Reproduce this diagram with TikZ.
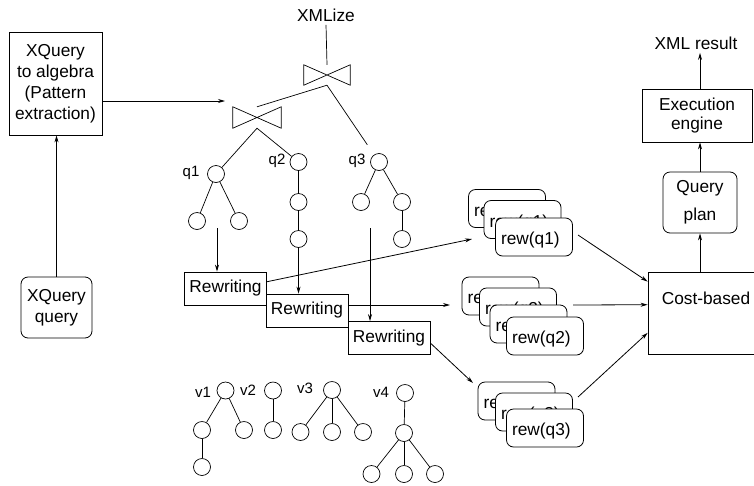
\documentclass[tikz,border=0pt]{standalone}
\usepackage{fontspec}
\setmainfont{Liberation Sans}
\usetikzlibrary{arrows.meta,calc}
\begin{document}
\begin{tikzpicture}[x=1pt,y=-1pt,
  every node/.style={font=\fontsize{17.3}{21}\selectfont},
  box/.style={draw, line width=0.8pt, inner sep=0pt, align=center},
  rbox/.style={box, rounded corners=7pt},
  rew/.style={draw, line width=0.8pt, rounded corners=7pt, fill=white, minimum height=38pt, text width=66pt, text height=15pt, text depth=0pt, inner xsep=5.5pt, inner ysep=0pt, align=left},
  tn/.style={draw, circle, line width=0.7pt, minimum size=17pt, inner sep=0pt},
  lbl/.style={font=\fontsize{15}{18}\selectfont, inner sep=0pt},
  ln/.style={line width=0.7pt},
  arr/.style={line width=0.8pt, -{Stealth[length=7pt,width=4pt]}},
  bowtie/.style={inner sep=0pt},
]
\useasboundingbox (0,0) rectangle (754,485);
\fill[white] (0,0) rectangle (754,485);

% left boxes
\node[box, minimum width=93pt, minimum height=103pt] (alg) at (55.5,83.5) {XQuery\\to algebra\\(Pattern\\extraction)};
\node[rbox, minimum width=71pt, minimum height=61pt] (xq) at (56.5,307.5) {XQuery\\query};
\draw[arr] (xq.north) -- (xq.north |- alg.south);

% joins
\node (xmlize) at (326,15) {XMLize};
\node[bowtie, minimum width=46pt, minimum height=20pt] (j1) at (327,75) {};
\draw[ln] (j1.north west) -- (j1.south east) -- (j1.north east) -- (j1.south west) -- cycle;
\node[bowtie, minimum width=48pt, minimum height=21pt] (j2) at (257,117.5) {};
\draw[ln] (j2.north west) -- (j2.south east) -- (j2.north east) -- (j2.south west) -- cycle;
\draw[ln] (xmlize.south) -- (j1.north);
\coordinate (jin) at (225,101);
\draw[arr] (alg.east |- jin) -- (jin);

% query trees
\node[tn] (q1r) at (216,174) {};
\node[tn] (q1a) at (197,221) {};
\node[tn] (q1b) at (239,221) {};
\node[lbl] (lq1) at (191,173) {q1};
\node[tn] (q2r) at (298.5,162) {};
\node[tn] (q2a) at (298.5,202) {};
\node[tn] (q2b) at (298.5,239) {};
\node[lbl] (lq2) at (277,161) {q2};
\node[tn] (q3r) at (379,162) {};
\node[tn] (q3a) at (361,202) {};
\node[tn] (q3b) at (402,202) {};
\node[tn] (q3c) at (402,239) {};
\node[lbl] (lq3) at (357,161) {q3};
\draw[ln] (q1r) -- (q1a);
\draw[ln] (q1r) -- (q1b);
\draw[ln] (q2r) -- (q2a);
\draw[ln] (q2a) -- (q2b);
\draw[ln] (q3r) -- (q3a);
\draw[ln] (q3r) -- (q3b);
\draw[ln] (q3b) -- (q3c);
\draw[ln] (j1.south) -- (j2.north);
\draw[ln, shorten >=12pt] (j1.south) -- (q3r);
\draw[ln] (j2.south) -- (q1r);
\draw[ln] (j2.south) -- (q2r);

% rewriting boxes
\node[box, minimum width=82pt, minimum height=33pt] (b1) at (225.5,288.5) {Rewriting};
\node[box, minimum width=82pt, minimum height=33pt] (b2) at (307,310.5) {Rewriting};
\node[box, minimum width=82pt, minimum height=33pt] (b3) at (389,338) {Rewriting};
\coordinate (q1o) at (217,228);
\draw[arr] (q1o) -- (q1o |- b1.north);
\draw[arr] (q2b.south) -- (q2b.south |- b2.north);
\coordinate (q3o) at (370,228);
\draw[arr] (q3o) -- (q3o |- b3.north);

% view trees
\node[tn] (v1r) at (225.5,390.5) {};
\node[tn] (v1a) at (202,430) {};
\node[tn] (v1b) at (244,430) {};
\node[tn] (v1c) at (202,467) {};
\node[lbl] (lv1) at (203,392) {v1};
\draw[ln] (v1r) -- (v1a);
\draw[ln] (v1r) -- (v1b);
\draw[ln] (v1a) -- (v1c);
\node[tn] (v2r) at (273,390.5) {};
\node[tn] (v2a) at (273,430) {};
\node[lbl] (lv2) at (248,390) {v2};
\draw[ln] (v2r) -- (v2a);
\node[tn] (v3r) at (332,390) {};
\node[tn] (v3a) at (300.5,432) {};
\node[tn] (v3b) at (332,432) {};
\node[tn] (v3c) at (363,432) {};
\node[lbl] (lv3) at (305,388) {v3};
\draw[ln] (v3r) -- (v3a);
\draw[ln] (v3r) -- (v3b);
\draw[ln] (v3r) -- (v3c);
\node[tn] (v4r) at (405,393) {};
\node[tn] (v4a) at (404,433) {};
\node[tn] (v4b) at (371.5,474) {};
\node[tn] (v4c) at (404,474) {};
\node[tn] (v4d) at (435,474) {};
\node[lbl] (lv4) at (381,392) {v4};
\draw[ln] (v4r) -- (v4a);
\draw[ln] (v4a) -- (v4b);
\draw[ln] (v4a) -- (v4c);
\draw[ln] (v4a) -- (v4d);

% rewriting stacks
\node[rew] (s1a) at (507,208.5) {rew(q1)};
\node[rew] (s1b) at (522.5,219.5) {rew(q1)};
\node[rew] (s1c) at (534,237) {rew(q1)};
\node[rew] (s2a) at (500.5,296) {rew(q2)};
\node[rew] (s2b) at (518,307) {rew(q2)};
\node[rew] (s2c) at (528.5,324) {rew(q2)};
\node[rew] (s2d) at (545,336) {rew(q2)};
\node[rew] (s3a) at (516.5,401) {rew(q3)};
\node[rew] (s3b) at (534,412) {rew(q3)};
\node[rew] (s3c) at (545,428) {rew(q3)};

\coordinate (s1in) at (472,239);
\draw[arr] ($(b1.north east)!0.3!(b1.south east)$) -- (s1in);
\coordinate (s2in) at (450,305);
\draw[arr] (b2.east |- s2in) -- (s2in);
\coordinate (s3in) at (473,383);
\draw[arr] ($(b3.north east)!0.65!(b3.south east)$) -- (s3in);

% cost-based, plan, execution
\node[box, minimum width=200pt, minimum height=82pt] (cost) at (748,313) {};
\node (costt) at (706,298) {Cost-based};
\coordinate (s1out) at (578,235);
\coordinate (s2out) at (573,305);
\coordinate (s3out) at (578,397);
\draw[arr] (s1out) -- ($(cost.north west)!0.12!(cost.south west)$);
\draw[arr] (s2out) -- ($(cost.north west)!0.4!(cost.south west)$);
\draw[arr] (s3out) -- ($(cost.north west)!0.74!(cost.south west)$);

\node[rbox, minimum width=74pt, minimum height=61pt] (plan) at (700,202.5) {Query\\[7pt]plan};
\node[box, minimum width=110pt, minimum height=53pt] (exec) at (697,115.5) {Execution\\[-2pt]engine};
\node (xml) at (696,43) {XML result};
\draw[arr] (plan.south |- cost.north) -- (plan.south);
\draw[arr] (plan.north) -- (plan.north |- exec.south);
\draw[arr] (plan.north |- exec.north) -- (plan.north |- xml.south);
\end{tikzpicture}
\end{document}
